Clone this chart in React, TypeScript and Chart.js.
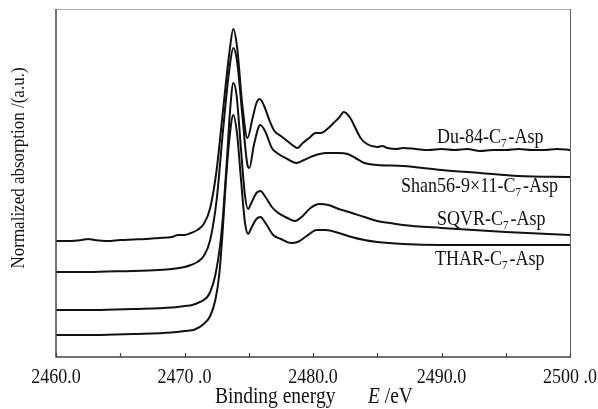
import React, { useEffect, useRef } from "react";
import { Chart, registerables } from "chart.js";

Chart.register(...registerables);

// ---- data ----
const duE = [2460, 2461, 2462, 2462.5, 2463, 2464, 2465, 2466, 2467, 2468, 2469, 2469.5, 2470, 2470.5, 2471, 2471.5, 2472, 2472.5, 2473, 2473.5, 2473.8, 2474.1, 2474.5, 2474.9, 2475.3, 2475.6, 2475.85, 2476.2, 2476.6, 2477, 2477.5, 2478, 2478.5, 2478.8, 2479.2, 2479.7, 2480.2, 2480.6, 2481.2, 2481.6, 2482, 2482.4, 2482.9, 2483.3, 2483.7, 2484.2, 2485, 2485.4, 2485.8, 2486.5, 2487, 2488, 2489, 2490, 2491, 2492, 2493, 2494, 2495, 2496, 2497, 2498, 2499, 2500];
const duA = [1.16, 1.16, 1.17, 1.18, 1.17, 1.16, 1.17, 1.175, 1.18, 1.19, 1.2, 1.22, 1.22, 1.24, 1.27, 1.33, 1.49, 1.87, 2.47, 3.05, 3.28, 3.09, 2.52, 2.19, 2.39, 2.54, 2.58, 2.51, 2.37, 2.26, 2.21, 2.16, 2.11, 2.09, 2.14, 2.19, 2.24, 2.24, 2.29, 2.34, 2.39, 2.45, 2.39, 2.29, 2.19, 2.13, 2.1, 2.11, 2.09, 2.08, 2.09, 2.08, 2.07, 2.08, 2.07, 2.08, 2.06, 2.07, 2.07, 2.08, 2.07, 2.07, 2.08, 2.07];

const shanE = [2460, 2462, 2464, 2466, 2468, 2469, 2470, 2470.5, 2471, 2471.5, 2472, 2472.5, 2473, 2473.5, 2473.8, 2474.1, 2474.5, 2474.9, 2475.05, 2475.4, 2475.9, 2476.3, 2476.8, 2477.2, 2478, 2478.7, 2479.3, 2480, 2481, 2482, 2482.7, 2483.3, 2484, 2485, 2487, 2490, 2493, 2496, 2500];
const shanA = [0.85, 0.85, 0.855, 0.86, 0.87, 0.88, 0.9, 0.92, 0.95, 1.01, 1.17, 1.57, 2.27, 2.89, 3.09, 2.95, 2.42, 1.92, 1.89, 2.12, 2.32, 2.25, 2.09, 2.04, 1.98, 1.94, 1.97, 2.01, 2.04, 2.04, 2.03, 1.99, 1.94, 1.92, 1.91, 1.87, 1.84, 1.81, 1.8];

const sqvrE = [2460, 2463, 2466, 2469, 2470, 2470.6, 2471.2, 2471.7, 2472, 2472.4, 2472.8, 2473, 2473.3, 2473.55, 2473.8, 2474.05, 2474.4, 2474.7, 2474.95, 2475.2, 2475.6, 2475.9, 2476.3, 2476.8, 2477.2, 2478, 2478.6, 2479.2, 2479.8, 2480.5, 2481.2, 2482, 2482.8, 2484, 2485, 2486, 2487, 2490, 2495, 2500];
const sqvrA = [0.47, 0.47, 0.48, 0.495, 0.51, 0.52, 0.55, 0.59, 0.65, 0.82, 1.15, 1.42, 1.97, 2.47, 2.74, 2.62, 2.07, 1.62, 1.48, 1.54, 1.64, 1.66, 1.6, 1.5, 1.45, 1.39, 1.36, 1.41, 1.49, 1.53, 1.52, 1.48, 1.45, 1.4, 1.36, 1.34, 1.32, 1.29, 1.25, 1.22];

const tharE = [2460, 2463, 2466, 2469, 2470, 2470.8, 2471.5, 2472, 2472.4, 2472.7, 2472.95, 2473.2, 2473.5, 2473.8, 2474.1, 2474.4, 2474.7, 2474.95, 2475.2, 2475.6, 2475.9, 2476.3, 2476.9, 2477.5, 2478.3, 2478.8, 2479.5, 2480.3, 2481, 2482, 2483, 2484, 2485, 2487, 2490, 2495, 2500];
const tharA = [0.22, 0.22, 0.23, 0.245, 0.26, 0.275, 0.33, 0.41, 0.57, 0.82, 1.22, 1.72, 2.19, 2.42, 2.22, 1.77, 1.35, 1.23, 1.29, 1.38, 1.4, 1.34, 1.22, 1.18, 1.14, 1.15, 1.21, 1.27, 1.27, 1.24, 1.2, 1.17, 1.15, 1.13, 1.12, 1.12, 1.12];

const labelPre = ["Du-84-C", "Shan56-9×11-C", "SQVR-C", "THAR-C"];
const labelSub = ["7", "7", "7", "7"];
const labelPost = ["-Asp", "-Asp", "-Asp", "-Asp"];

const majorTicks = [2460, 2470, 2480, 2490, 2500];
const tickLabels = ["2460.0", "2470 .0", "2480.0", "2490.0", "2500 .0"];
const minorTicks = [2465, 2475, 2485, 2495];

const xTitle = "Binding energy";
const xTitleVar = "E";
const xTitleUnit = " /eV";
const yTitle = "Normalized absorption /(a.u.)";

// ---- layout (pixel positions of labels) ----
const labelPos = [
  [437, 143],
  [401, 192],
  [437, 225],
  [435, 265],
];

const FONT = '"Liberation Serif", "Times New Roman", serif';
const VS = 1.15; // vertical stretch of the reference's text

const mk = (xs: number[], ys: number[]) => xs.map((x, i) => ({ x, y: ys[i] }));

function stretchText(ctx: CanvasRenderingContext2D, text: string, x: number, y: number) {
  ctx.save();
  ctx.translate(x, y);
  ctx.scale(1, VS);
  ctx.fillText(text, 0, 0);
  ctx.restore();
}

const overlay = {
  id: "overlay",
  afterDraw(chart: any) {
    const { ctx, chartArea, scales } = chart;
    const { left, right, top, bottom } = chartArea;
    const x = scales.x;
    ctx.save();
    // frame
    ctx.lineWidth = 1;
    ctx.strokeStyle = "#aaaaaa";
    ctx.beginPath();
    ctx.moveTo(left, top + 0.5);
    ctx.lineTo(right, top + 0.5);
    ctx.stroke();
    ctx.strokeStyle = "#666666";
    ctx.beginPath();
    ctx.moveTo(right + 0.5, top);
    ctx.lineTo(right + 0.5, bottom);
    ctx.stroke();
    ctx.strokeStyle = "#444444";
    ctx.lineWidth = 1.5;
    ctx.beginPath();
    ctx.moveTo(left, top);
    ctx.lineTo(left, bottom);
    ctx.lineTo(right + 1, bottom);
    ctx.stroke();
    // ticks
    ctx.lineWidth = 1.2;
    [...majorTicks, ...minorTicks].forEach((v) => {
      const px = Math.round(x.getPixelForValue(v)) + 0.5;
      ctx.beginPath();
      ctx.moveTo(px, bottom);
      ctx.lineTo(px, bottom - 4);
      ctx.stroke();
    });
    // tick labels
    ctx.fillStyle = "#111";
    ctx.font = `18px ${FONT}`;
    ctx.textAlign = "center";
    ctx.textBaseline = "alphabetic";
    majorTicks.forEach((v, i) => {
      stretchText(ctx, tickLabels[i], x.getPixelForValue(v), bottom + 26);
    });
    // x title
    ctx.textAlign = "left";
    ctx.font = `19.5px ${FONT}`;
    const ty = 403;
    stretchText(ctx, xTitle, 215, ty);
    ctx.font = `italic 19.5px ${FONT}`;
    stretchText(ctx, xTitleVar, 368, ty);
    const ew = ctx.measureText(xTitleVar).width;
    ctx.font = `19.5px ${FONT}`;
    stretchText(ctx, xTitleUnit, 368 + ew, ty);
    // y title
    ctx.save();
    ctx.translate(19, 168);
    ctx.rotate(-Math.PI / 2);
    ctx.scale(1, VS);
    ctx.textAlign = "center";
    ctx.textBaseline = "middle";
    ctx.font = `17px ${FONT}`;
    ctx.fillText(yTitle, 0, 0);
    ctx.restore();
    // series labels
    ctx.textAlign = "left";
    ctx.textBaseline = "alphabetic";
    labelPre.forEach((pre, i) => {
      let [lx, ly] = labelPos[i];
      ctx.font = `18px ${FONT}`;
      stretchText(ctx, pre, lx, ly);
      lx += ctx.measureText(pre).width;
      ctx.font = `11px ${FONT}`;
      stretchText(ctx, labelSub[i], lx, ly + 4);
      lx += ctx.measureText(labelSub[i]).width + 2;
      ctx.font = `18px ${FONT}`;
      stretchText(ctx, labelPost[i], lx, ly);
    });
    ctx.restore();
  },
};

export default function App() {
  const ref = useRef<HTMLCanvasElement>(null);
  useEffect(() => {
    const ds = (data: any) => ({
      data,
      borderColor: "#111111",
      borderWidth: 2,
      pointRadius: 0,
      fill: false,
      cubicInterpolationMode: "monotone" as const,
    });
    const chart = new Chart(ref.current!, {
      type: "line",
      data: {
        datasets: [ds(mk(duE, duA)), ds(mk(shanE, shanA)), ds(mk(sqvrE, sqvrA)), ds(mk(tharE, tharA))],
      },
      options: {
        animation: false,
        responsive: false,
        layout: { padding: { left: 56, right: 28, top: 9, bottom: 52 } },
        plugins: { legend: { display: false }, tooltip: { enabled: false } },
        scales: {
          x: { type: "linear", min: 2460, max: 2500, display: false },
          y: { type: "linear", min: 0, max: 3.48, display: false },
        },
      },
      plugins: [overlay],
    });
    return () => chart.destroy();
  }, []);
  return (
    <div style={{ position: "fixed", left: 0, top: 0, width: 598, height: 409, background: "#fff" }}>
      <canvas ref={ref} width={598} height={409} />
    </div>
  );
}
